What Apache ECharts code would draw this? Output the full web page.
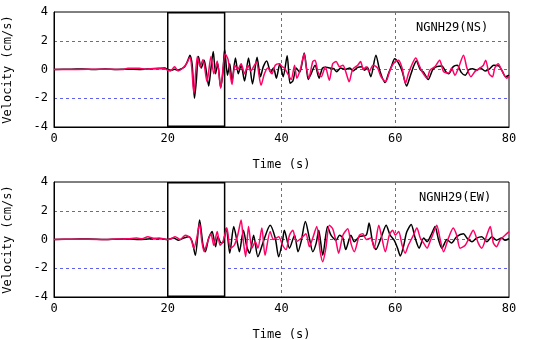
<!DOCTYPE html>
<html><head><meta charset="utf-8">
<script src="https://cdn.jsdelivr.net/npm/echarts@6/dist/echarts.min.js"></script>
<style>html,body{margin:0;padding:0;background:#fff}#c{width:536px;height:340px}</style>
</head><body><div id="c"></div>
<script>
// ---- data ----
const xTicks = [0, 20, 40, 60, 80];
const yTicks = [-4, -2, 0, 2, 4];
const panelTitles = ['NGNH29(NS)', 'NGNH29(EW)'];
const boxRange = [20, 30];
// [time (s), velocity (cm/s)]
const nsBlack = [[0,0],[3,0.02],[5,0.03],[7,0],[9,0.03],[11,0],[13,0.02],[15,0],[17,0.05],[18.5,0.08],[19.5,0.1],[20,0],[20.6,-0.05],[21.2,0.02],[21.8,-0.05],[22.4,0.05],[23.0,0.2],[23.5,0.6],[23.9,1.0],[24.3,0.3],[24.7,-2.0],[25.0,-0.9],[25.4,0.9],[25.9,0.1],[26.4,0.65],[26.8,-0.2],[27.2,-1.15],[27.6,0.1],[28.0,1.25],[28.4,-0.3],[28.8,0.4],[29.3,-1.25],[29.7,-0.2],[30.0,1.4],[30.5,-0.4],[30.9,0.4],[31.3,-0.8],[31.9,0.8],[32.4,-0.3],[32.9,0.3],[33.5,-0.8],[34.2,0.8],[34.9,-1.0],[35.7,0.85],[36.3,-0.5],[36.8,0.2],[37.4,0.6],[38.1,-0.2],[38.6,0.1],[39.1,-0.6],[39.7,0.4],[40.3,-0.5],[41.0,0.95],[41.5,-0.95],[42.0,-0.8],[42.6,0.1],[43.2,-0.2],[44.0,1.15],[44.7,-0.7],[45.2,-0.3],[45.9,0.3],[46.6,-0.6],[47.2,0.1],[47.8,0.15],[48.5,0.1],[49.2,0.05],[49.7,-0.15],[50.4,0.1],[51.2,0.0],[52.0,0.1],[52.6,-0.1],[53.4,0.15],[54.1,0.2],[54.6,-0.05],[55.1,0.15],[55.7,-0.5],[56.6,1.0],[57.3,-0.1],[58.2,-0.9],[58.8,-0.3],[59.4,0.3],[59.9,0.75],[60.5,0.5],[61.2,-0.1],[62.0,-1.15],[62.6,-0.5],[63.2,0.2],[63.7,0.6],[64.4,0.0],[65.0,-0.2],[65.8,-0.7],[66.6,0.0],[67.3,0.2],[68.2,0.25],[68.9,-0.15],[69.4,-0.3],[70.2,0.2],[70.9,0.3],[71.6,-0.2],[72.3,-0.4],[73.0,0.0],[73.6,0.05],[74.3,-0.05],[75.0,0.1],[75.8,-0.1],[76.6,0.05],[77.3,0.3],[78.2,0.25],[78.8,-0.1],[79.4,-0.5],[80,-0.4]];
const nsRed = [[0,0],[4,0],[8,0.02],[12,0],[13,0.08],[15,0.08],[16,0.02],[17,0.06],[18.5,0.05],[19.5,0.05],[20,-0.05],[20.5,-0.1],[21.2,0.2],[21.8,-0.1],[22.5,0.05],[23.3,0.4],[23.9,0.85],[24.2,0.2],[24.6,-1.7],[25.2,0.9],[25.7,0.2],[26.2,0.7],[26.9,-0.85],[27.6,0.9],[28.1,-0.3],[28.7,0.6],[29.3,-1.3],[30.1,1.1],[30.6,0.7],[31.3,-1.05],[31.8,0.3],[32.3,0.0],[32.9,0.4],[33.5,-0.3],[34.1,0.3],[34.6,-0.1],[35.1,0.2],[35.6,0.5],[36.4,-1.1],[37.0,-0.3],[37.6,0.1],[38.3,-0.3],[38.9,0.3],[39.6,0.4],[40.1,0.2],[40.5,0.1],[41.1,-0.3],[41.7,-0.7],[42.3,0.3],[42.7,-0.6],[43.3,0.0],[44.0,1.1],[44.3,0.3],[44.8,-0.6],[45.5,0.55],[45.9,0.65],[46.4,-0.15],[47.0,-0.5],[47.7,0.2],[48.4,-0.75],[49.0,0.4],[49.6,0.55],[50.2,0.2],[50.8,0.3],[51.3,-0.15],[51.9,-0.85],[52.5,0.0],[53.4,0.3],[53.9,0.55],[54.4,0.0],[54.9,0.2],[55.4,-0.15],[56.1,0.3],[56.9,0.1],[57.5,-0.5],[58.3,-0.85],[59.0,-0.15],[59.5,0.3],[60.0,0.55],[60.6,0.65],[61.2,0.1],[61.8,-0.95],[62.3,-0.3],[63.0,0.4],[63.6,0.8],[64.2,0.3],[64.7,-0.15],[65.6,-0.6],[66.1,-0.05],[67.0,0.2],[67.8,0.65],[68.5,-0.15],[69.4,-0.25],[69.9,0.1],[70.5,-0.4],[71.1,0.1],[72.0,1.0],[72.6,0.1],[73.3,-0.5],[74.0,-0.15],[74.9,0.1],[75.5,0.3],[75.9,0.65],[76.5,-0.3],[77.1,-0.5],[77.5,0.1],[78.1,0.4],[78.7,-0.05],[79.6,-0.6],[80,-0.5]];
const ewBlack = [[0,0],[3,0.02],[6,0.03],[9,0],[11,0.02],[13,0.03],[15,0],[17,0.05],[19,0.05],[20,0],[21.0,0.1],[21.9,-0.05],[22.8,0.1],[23.7,0.2],[24.3,-0.15],[24.85,-1.1],[25.6,1.35],[26.2,-0.4],[26.6,-0.85],[27.2,0.1],[27.8,0.55],[28.4,-0.5],[28.8,0.2],[29.4,-0.25],[29.8,-0.15],[30.3,0.8],[30.9,-0.95],[31.6,0.9],[32.2,-0.15],[32.6,-0.85],[33.3,0.65],[33.9,-0.5],[34.4,-0.95],[35.1,0.3],[35.85,-1.2],[36.8,-0.15],[38.0,1.0],[38.9,0.1],[39.5,-1.2],[40.2,-0.05],[40.5,0.65],[41.4,-0.6],[42.3,0.3],[42.9,-0.85],[43.45,-0.15],[44.2,1.25],[44.9,0.1],[45.5,-0.85],[46.1,-0.25],[46.55,0.65],[47.25,-1.1],[48.1,0.9],[48.7,0.3],[49.6,-0.05],[50.2,0.3],[50.8,0.1],[51.3,-0.7],[52.2,0.3],[52.8,-0.15],[53.7,0.2],[54.9,0.3],[55.4,1.15],[56.0,-0.15],[56.6,-0.7],[57.5,0.1],[58.4,1.0],[59.1,0.3],[59.8,-0.05],[60.4,-0.6],[60.9,-1.15],[61.5,-0.4],[62.0,0.5],[62.8,1.05],[63.5,0.1],[64.2,-0.6],[65.0,0.1],[65.6,-0.15],[66.4,0.4],[67.0,0.9],[67.6,0.0],[68.2,-0.6],[69.1,0.0],[69.9,-0.25],[70.8,0.2],[72.0,0.4],[72.6,0.1],[73.5,-0.15],[74.3,0.1],[75.2,0.2],[76.1,-0.15],[77.0,0.2],[77.8,-0.05],[78.7,0.1],[79.3,-0.05],[80,0.05]];
const ewRed = [[0,0],[4,0.02],[8,0],[11,0.03],[13,0.05],[14.5,0.1],[15.5,0.05],[16.5,0.2],[17.5,0.08],[18.5,0.1],[19.5,0.02],[20,0],[20.6,0.05],[21.3,0.2],[22.2,0.0],[23.1,0.3],[24.0,0.1],[24.6,-0.6],[25.1,0.1],[25.6,1.1],[26.0,-0.15],[26.4,-0.85],[27.0,-0.15],[27.6,0.4],[28.1,-0.4],[28.7,0.55],[29.2,-0.4],[29.7,-0.15],[30.4,0.8],[31.0,-0.6],[31.7,-0.4],[32.3,0.3],[32.9,1.35],[33.3,-0.15],[33.7,-1.2],[34.2,0.9],[34.8,-0.6],[35.4,-0.15],[35.85,-0.6],[36.55,0.8],[37.1,-1.1],[38.0,0.55],[38.6,0.0],[39.5,0.2],[40.2,-0.4],[40.8,-0.7],[41.4,0.3],[42.0,0.65],[42.6,-0.15],[43.2,0.0],[43.75,0.2],[44.3,0.4],[44.9,-0.5],[45.5,0.1],[46.2,0.9],[46.8,-0.85],[47.25,-1.55],[47.8,-0.6],[48.4,1.0],[49.0,0.75],[49.6,-0.15],[50.05,-0.95],[50.8,0.3],[51.65,0.75],[52.2,-0.25],[52.8,-0.85],[53.7,0.3],[54.3,0.4],[54.9,0.0],[55.7,0.1],[56.3,-0.6],[57.1,1.0],[57.6,0.2],[58.25,-0.85],[58.95,0.3],[59.55,0.65],[60.0,0.3],[60.6,0.55],[61.2,-0.4],[61.75,-0.95],[62.3,-0.4],[63.2,0.3],[63.8,0.8],[64.4,0.1],[65.0,-0.25],[65.6,-0.6],[66.1,-0.15],[67.0,0.75],[67.3,1.0],[67.9,0.0],[68.5,-0.85],[69.35,0.1],[70.2,0.8],[70.8,0.3],[71.4,-0.6],[72.3,-0.4],[73.2,0.3],[73.7,0.65],[74.6,-0.25],[75.2,-0.6],[76.1,0.3],[76.7,0.9],[77.25,-0.25],[77.8,-0.5],[78.4,-0.05],[79.3,0.3],[80,0.55]];

// ---- chart ----
const FONT = "'DejaVu Sans Mono', 'Liberation Mono', monospace";
const gridDash = { color: '#5f5ff0', width: 1, type: [3, 3] };
const chart = echarts.init(document.getElementById('c'), null, { renderer: 'canvas' });
const grids = [
  { left: 54, right: 27, top: 12, height: 115 },
  { left: 54, right: 27, top: 182, height: 115 }
];
function xAx(i) {
  return {
    type: 'value', gridIndex: i, min: xTicks[0], max: xTicks[xTicks.length - 1], interval: 20,
    name: 'Time (s)', nameLocation: 'middle', nameGap: 32,
    nameTextStyle: { fontFamily: FONT, fontSize: 12, color: '#000' },
    axisLine: { show: true, onZero: false, lineStyle: { color: '#000', width: 1 } },
    axisTick: { show: false },
    axisLabel: { fontFamily: FONT, fontSize: 12, color: '#000', margin: 6 },
    splitLine: { show: true, showMinLine: false, showMaxLine: false, lineStyle: gridDash }
  };
}
function yAx(i) {
  return {
    type: 'value', gridIndex: i, min: yTicks[0], max: yTicks[yTicks.length - 1], interval: 2,
    name: 'Velocity (cm/s)', nameLocation: 'middle', nameGap: 40,
    nameTextStyle: { fontFamily: FONT, fontSize: 12, color: '#000' },
    axisLine: { show: true, onZero: false, lineStyle: { color: '#000', width: 1 } },
    axisTick: { show: false },
    axisLabel: { fontFamily: FONT, fontSize: 12, color: '#000', margin: 6 },
    splitLine: { show: true, showMinLine: false, showMaxLine: false, lineStyle: gridDash }
  };
}
function boxSeries(i) {
  return {
    type: 'line', xAxisIndex: i, yAxisIndex: i, data: [], z: 1, silent: true,
    markArea: {
      silent: true,
      itemStyle: { color: '#fff', borderColor: '#000', borderWidth: 1.5 },
      data: [[{ coord: [boxRange[0], -3.95] }, { coord: [boxRange[1], 3.95] }]]
    }
  };
}
function trace(i, data, color) {
  return {
    type: 'line', xAxisIndex: i, yAxisIndex: i, data: data, z: 3,
    showSymbol: false, symbol: 'none', smooth: 0.25, animation: false,
    lineStyle: { color: color, width: 1.5 }
  };
}
chart.setOption({
  animation: false,
  backgroundColor: '#fff',
  grid: grids.map(g => Object.assign({ show: true, borderColor: '#000', borderWidth: 1, backgroundColor: 'transparent', containLabel: false, outerBoundsMode: 'none' }, g)),
  xAxis: [xAx(0), xAx(1)],
  yAxis: [yAx(0), yAx(1)],
  graphic: [
    { type: 'text', left: 416, top: 22, z: 10, style: { text: panelTitles[0], font: '12px ' + FONT, fill: '#000' } },
    { type: 'text', left: 419, top: 192, z: 10, style: { text: panelTitles[1], font: '12px ' + FONT, fill: '#000' } }
  ],
  series: [
    boxSeries(0), boxSeries(1),
    trace(0, nsBlack, '#000000'), trace(0, nsRed, '#ff0066'),
    trace(1, ewBlack, '#000000'), trace(1, ewRed, '#ff0066')
  ]
});
</script></body></html>
